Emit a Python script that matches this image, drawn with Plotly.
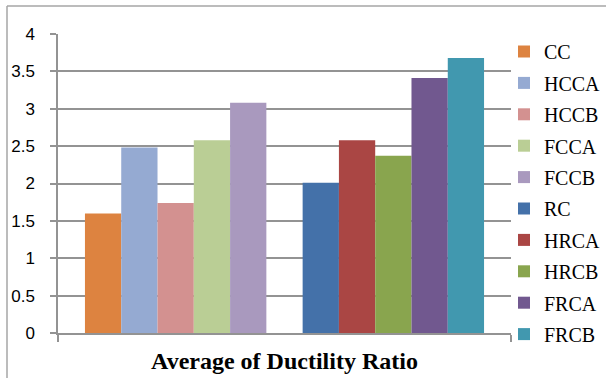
import plotly.graph_objects as go

category = ["Average of Ductility Ratio"]

left_names = ["CC", "HCCA", "HCCB", "FCCA", "FCCB"]
left_values = [1.60, 2.48, 1.74, 2.58, 3.08]
left_colors = ["#DD8340", "#95AAD2", "#D39190", "#BACE95", "#A999BE"]

right_names = ["RC", "HRCA", "HRCB", "FRCA", "FRCB"]
right_values = [2.01, 2.58, 2.37, 3.41, 3.68]
right_colors = ["#4471A9", "#AA4644", "#89A54E", "#71588F", "#4198AF"]

y_ticks = [0, 0.5, 1, 1.5, 2, 2.5, 3, 3.5, 4]
y_tick_text = ["0", "0.5", "1", "1.5", "2", "2.5", "3", "3.5", "4"]

W, H = 606, 378
ML, MR, MT, MB = 58, 95, 34, 45
GRID = "#939393"

fig = go.Figure()


def add_bar(name, value, color, show=True):
    fig.add_trace(go.Bar(
        x=category, y=[value], name=name,
        marker=dict(color=color, line=dict(width=0)),
        showlegend=show, legendgroup=name,
        hoverinfo="skip" if not show else None,
    ))


for n, v, c in zip(left_names, left_values, left_colors):
    add_bar(n, v, c)
# empty slot separating the two families of specimens
add_bar("spacer", 0, "rgba(0,0,0,0)", show=False)
for n, v, c in zip(right_names, right_values, right_colors):
    add_bar(n, v, c)

pw = W - ML - MR
ph = H - MT - MB
fx = lambda px: (px - ML) / pw
fy = lambda py: (H - MB - py) / ph

# outer chart frame (left and top edges)
frame = dict(type="line", xref="paper", yref="paper",
             line=dict(color="#A6A6A6", width=1.5), layer="below")
fig.add_shape(**frame, x0=fx(7), x1=fx(7), y0=fy(6), y1=fy(W))
fig.add_shape(**frame, x0=fx(7), x1=fx(W + 10), y0=fy(6), y1=fy(6))

fig.update_layout(
    width=W, height=H,
    margin=dict(l=ML, r=MR, t=MT, b=MB, autoexpand=False),
    paper_bgcolor="white", plot_bgcolor="white",
    barmode="group", bargap=0.119, bargroupgap=0,
    font=dict(family="Liberation Serif", color="black"),
    legend=dict(
        xref="container", yref="container",
        x=504 / W, y=1 - 32 / H, xanchor="left", yanchor="top",
        font=dict(family="Liberation Serif", size=20, color="black"),
        tracegroupgap=2.4, itemsizing="constant",
        maxheight=370,
        bgcolor="rgba(0,0,0,0)",
    ),
    xaxis=dict(
        range=[-0.5, 0.5], showline=True, linecolor=GRID, linewidth=1.5,
        ticks="outside", tickson="boundaries", ticklen=7,
        tickcolor=GRID, tickwidth=1.5, automargin=False,
        ticklabelstandoff=5,
        tickfont=dict(family="Liberation Serif", size=24, color="black", weight="bold"),
        showgrid=False,
    ),
    yaxis=dict(
        range=[0, 4], tickvals=y_ticks, ticktext=y_tick_text,
        showline=True, linecolor=GRID, linewidth=1.5,
        showgrid=True, gridcolor=GRID, gridwidth=1.5,
        zeroline=False, automargin=False,
        ticks="outside", ticklen=6, tickcolor=GRID, tickwidth=1.5,
        ticklabelstandoff=12,
        tickfont=dict(family="Liberation Sans", size=17, color="black"),
    ),
)

fig.write_html("out.html")
